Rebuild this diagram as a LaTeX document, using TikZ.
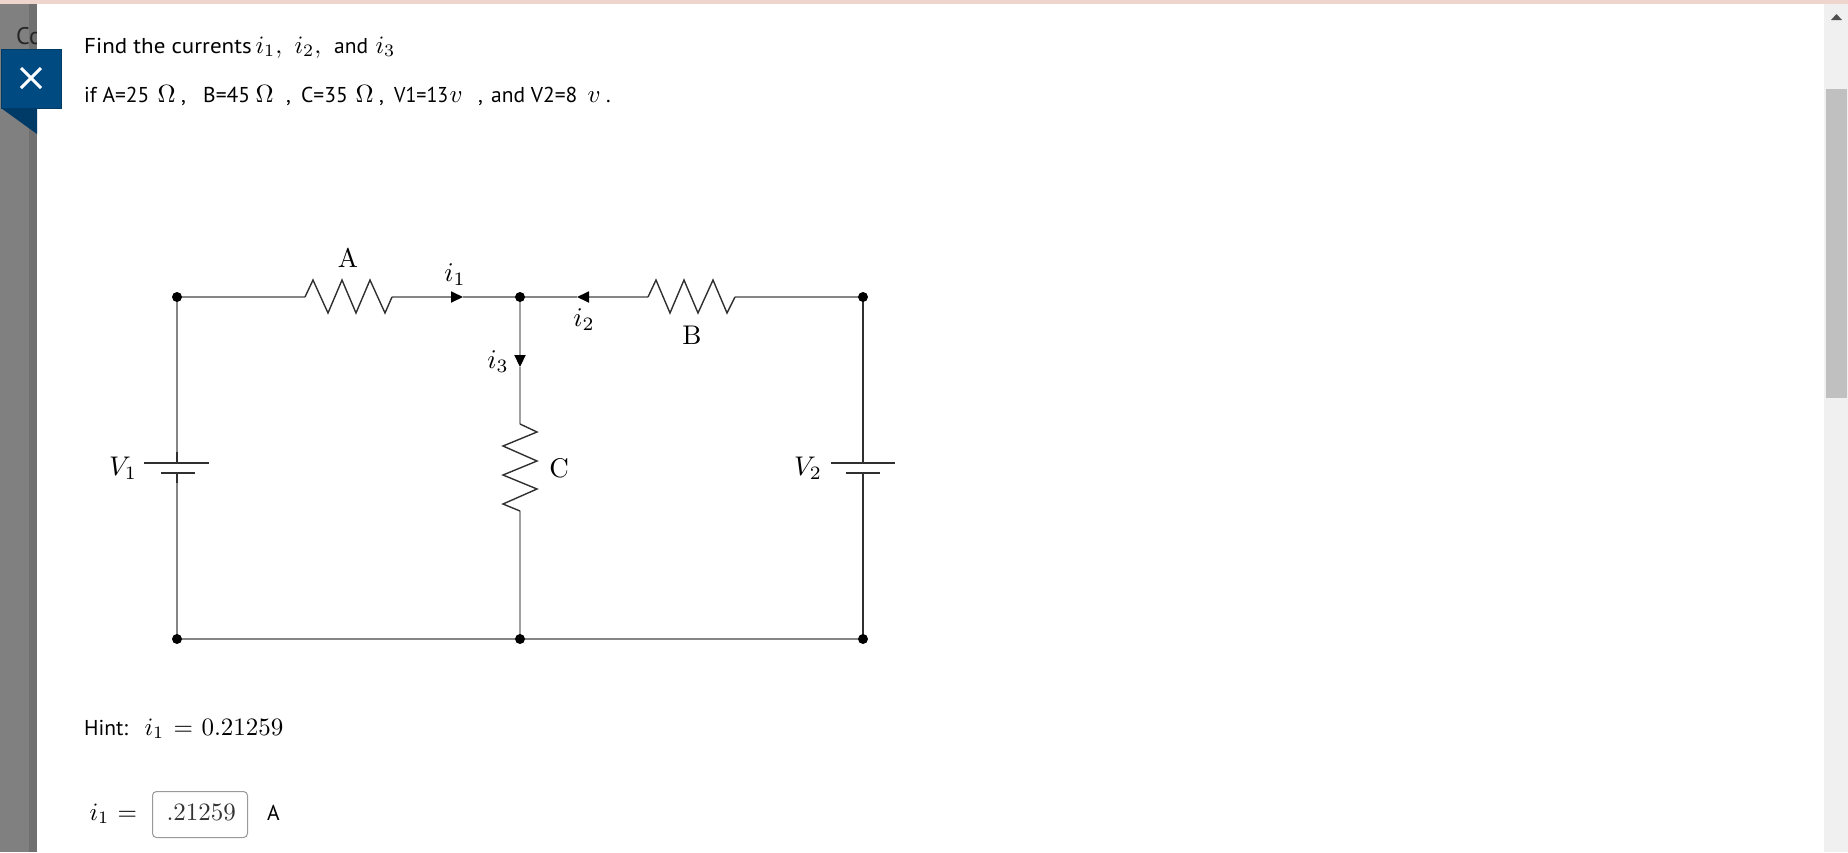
\documentclass[tikz,border=0pt]{standalone}
\usepackage{fontspec}
\usepackage{amsmath}
\setsansfont{PT Sans}
\usetikzlibrary{arrows.meta}
\definecolor{wirecol}{HTML}{858585}
\definecolor{midwire}{HTML}{A0A0A0}
\definecolor{zigcol}{HTML}{303030}
\definecolor{closeblue}{HTML}{004A82}
\definecolor{closedark}{HTML}{003A66}
\definecolor{greyside}{HTML}{808080}
\definecolor{greydark}{HTML}{707070}
\definecolor{topstrip}{HTML}{EFD5CC}
\definecolor{scrollbg}{HTML}{F0F0F0}
\definecolor{scrollthumb}{HTML}{C0C0C0}
\definecolor{scrollarrow}{HTML}{505050}
\definecolor{boxedge}{HTML}{999999}
\tikzset{
  wire/.style={draw=wirecol,line width=1.8pt},
  centrewire/.style={draw=midwire,line width=2.2pt},
  darkwire/.style={draw=zigcol,line width=1.2pt},
  zig/.style={draw=zigcol,line width=1.4pt,line join=miter},
  dotnode/.style={circle,fill=black,inner sep=0pt,minimum size=10pt},
  lab/.style={inner sep=0pt,text=black,scale=2.7},
  ui/.style={inner sep=0pt,anchor=base west,text=black,font=\sffamily\fontsize{21.5}{26}\selectfont},
  mth/.style={inner sep=0pt,anchor=base west,text=black,scale=2.5},
  flow/.style={-{Triangle[length=12pt,width=11pt,black]},draw=wirecol,line width=1.8pt}
}
\begin{document}
\begin{tikzpicture}[x=1pt,y=-1pt]
\useasboundingbox (0,0) rectangle (1848,852);
% page chrome
\fill[white] (0,0) rectangle (1848,852);
\fill[greyside] (0,3) rectangle (37,852);
\fill[greydark] (29,3) rectangle (37,852);
\node[inner sep=0pt,anchor=base west,text=black!85,font=\sffamily\fontsize{24}{26}\selectfont] (cc) at (16,44) {Cc};
\fill[white] (37,3) rectangle (1824,852);
\fill[topstrip] (0,0) rectangle (1848,3.5);
\fill[scrollbg] (1824,3.5) rectangle (1848,852);
\fill[scrollthumb] (1826,89) rectangle (1847,398);
\fill[scrollarrow] (1836.5,14) -- (1842,20) -- (1831,20) -- cycle;
\fill[closedark] (1,108) -- (37,108) -- (37,134) -- cycle;
\fill[closeblue] (1,49) rectangle (61,108);
\draw[closedark,line width=.8pt] (1,49) rectangle (61,108);
\draw[white,line width=3pt] (21,68) -- (41,88);
\draw[white,line width=3pt] (41,68) -- (21,88);
% question text
\node[ui,xscale=1.07] (t1) at (84,53) {Find the currents};
\node[mth] (t1a) at (255,53) {$i_1,$};
\node[mth] (t1b) at (294,53) {$i_2,$};
\node[ui] (t1c) at (334,53) {and};
\node[mth] (t1d) at (375,53) {$i_3$};
\node[ui] (t2) at (84,102) {if A=25};
\node[mth] (t2a) at (157,102) {$\Omega$};
\node[ui] (t2b) at (181,102) {,};
\node[ui] (t2c) at (203,102) {B=45};
\node[mth] (t2d) at (255,102) {$\Omega$};
\node[ui] (t2e) at (286,102) {,};
\node[ui] (t2f) at (301,102) {C=35};
\node[mth] (t2g) at (355,102) {$\Omega$};
\node[ui] (t2h) at (379,102) {,};
\node[ui,xscale=.93] (t2i) at (394,102) {V1=13};
\node[mth] (t2j) at (449,102) {$v$};
\node[ui] (t2k) at (478,102) {,};
\node[ui] (t2l) at (491,102) {and V2=8};
\node[mth] (t2m) at (587,102) {$v$};
\node[ui] (t2n) at (606,102) {.};
% circuit points
\coordinate (aS) at (305,297);
\coordinate (aE) at (392,297);
\coordinate (bS) at (648,297);
\coordinate (bE) at (735,297);
\coordinate (cS) at (520,424);
\coordinate (cE) at (520,511);
\coordinate (t1tip) at (463,297);
\coordinate (t2tip) at (577,297);
\coordinate (t3tip) at (520,367);
\coordinate (v1a) at (177,452);
\coordinate (v1b) at (177,463);
\coordinate (v1c) at (177,473);
\coordinate (v1d) at (177,483);
\coordinate (v2a) at (863,452);
\coordinate (v2b) at (863,463);
\coordinate (v2c) at (863,473);
\coordinate (v2d) at (863,483);
\coordinate (v1ll) at (144,463);
\coordinate (v1lr) at (209,463);
\coordinate (v1sl) at (161,473);
\coordinate (v1sr) at (195,473);
\coordinate (v2ll) at (831,463);
\coordinate (v2lr) at (895,463);
\coordinate (v2sl) at (846,473);
\coordinate (v2sr) at (880,473);
\coordinate (tl) at (177,297);
\coordinate (tm) at (520,297);
\coordinate (tr) at (863,297);
\coordinate (bl) at (177,639);
\coordinate (bm) at (520,639);
\coordinate (br) at (863,639);
% wires
\draw[wire] (tl) -- (aS);
\draw[flow] (aE) -- (t1tip);
\draw[wire] (t1tip) -- (tm);
\draw[wire] (tm) -- (t2tip);
\draw[flow] (bS) -- (t2tip);
\draw[wire] (bE) -- (tr);
\draw[flow,draw=midwire,line width=2.2pt] (tm) -- (t3tip);
\draw[centrewire] (t3tip) -- (cS);
\draw[centrewire] (cE) -- (bm);
\draw[wire] (tl) -- (v1a);
\draw[wire] (v1d) -- (bl);
\draw[darkwire] (tr) -- (v2a);
\draw[darkwire] (v2d) -- (br);
\draw[wire] (bl) -- (bm);
\draw[wire] (bm) -- (br);
% batteries
\draw[zig] (v1a) -- (v1b);
\draw[zig] (v1c) -- (v1d);
\draw[zig] (v1ll) -- (v1lr);
\draw[zig] (v1sl) -- (v1sr);
\draw[zig] (v2a) -- (v2b);
\draw[zig] (v2c) -- (v2d);
\draw[zig] (v2ll) -- (v2lr);
\draw[zig] (v2sl) -- (v2sr);
% resistors
\draw[zig] (aS) -- (313,280) -- (328,313) -- (342,280) -- (356,313) -- (370,280) -- (385,313) -- (aE);
\draw[zig] (bS) -- (656,280) -- (670,313) -- (684,280) -- (698,313) -- (713,280) -- (727,313) -- (bE);
\draw[zig] (cS) -- (537,432) -- (503,446) -- (537,461) -- (503,475) -- (537,489) -- (503,504) -- (cE);
% junction dots
\node[dotnode] (dtl) at (tl) {};
\node[dotnode] (dtm) at (tm) {};
\node[dotnode] (dtr) at (tr) {};
\node[dotnode] (dbl) at (bl) {};
\node[dotnode] (dbm) at (bm) {};
\node[dotnode] (dbr) at (br) {};
% circuit labels
\node[lab] (la) at (348,258) {A};
\node[lab] (lb) at (692,335) {B};
\node[lab] (lc) at (559,468) {C};
\node[lab] (li1) at (455,275) {$i_1$};
\node[lab] (li2) at (584,320) {$i_2$};
\node[lab] (li3) at (498,362) {$i_3$};
\node[lab] (lv1) at (123,468) {$V_1$};
\node[lab] (lv2) at (808,468) {$V_2$};
% hint and answer
\node[ui] (h1) at (84,735) {Hint:};
\node[mth] (h2) at (144,735) {$i_1$};
\node[mth] (h2b) at (173,735) {$=$};
\node[mth] (h2c) at (201,735) {$0.21259$};
\node[mth] (h3) at (89,820) {$i_1$};
\node[mth] (h3b) at (117,820) {$=$};
\node[draw=boxedge,rounded corners=4pt,line width=1pt,minimum width=95pt,minimum height=46pt,inner sep=0pt,anchor=north west,fill=white] (box) at (152,791) {};
\node[mth,text=black!80] (h4) at (166,820) {$.21259$};
\node[ui] (h5) at (267,820) {A};
\end{tikzpicture}
\end{document}
